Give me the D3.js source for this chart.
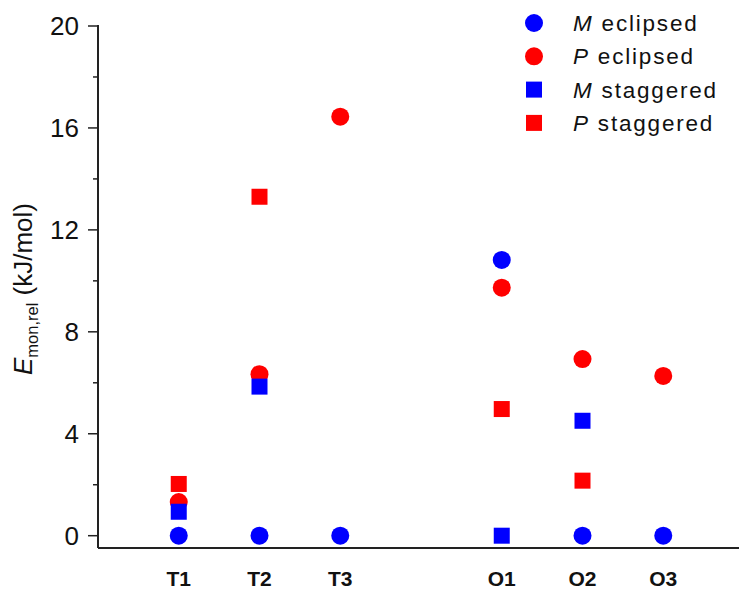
<!DOCTYPE html>
<html>
<head>
<meta charset="utf-8">
<script src="https://cdn.jsdelivr.net/npm/d3@7/dist/d3.min.js"></script>
<style>
  body { margin: 0; background: #fff; }
  svg { display: block; font-family: "Liberation Sans", Arial, sans-serif; }
</style>
</head>
<body>
<div id="chart"></div>
<script>
const categories = ["T1", "T2", "T3", "O1", "O2", "O3"];
const catPositions = [1, 2, 3, 5, 6, 7];

// values per category, null = no point
const mEclipsed = [0, 0, 0, 10.82, 0, 0];
const pEclipsed = [1.32, 6.34, 16.44, 9.73, 6.93, 6.27];
const mStaggered = [0.94, 5.85, null, 0, 4.51, null];
const pStaggered = [2.03, 13.3, null, 4.97, 2.16, null];

const yTicks = [0, 4, 8, 12, 16, 20];
const yMinorTicks = [2, 6, 10, 14, 18];

const series = [
  { name: "eclipsed", prefix: "M", values: mEclipsed, color: "#0000ff", shape: "circle" },
  { name: "eclipsed", prefix: "P", values: pEclipsed, color: "#ff0000", shape: "circle" },
  { name: "staggered", prefix: "M", values: mStaggered, color: "#0000ff", shape: "square" },
  { name: "staggered", prefix: "P", values: pStaggered, color: "#ff0000", shape: "square" }
];

const W = 739, H = 591;
const svg = d3.select("#chart").append("svg").attr("width", W).attr("height", H);

const x = d3.scaleLinear().domain([0, 8]).range([98, 744]);
const y = d3.scaleLinear().domain([0, 20]).range([535.7, 26]);
const yBottom = 548;

const axisColor = "#222";

// y axis
const yAxis = svg.append("g").attr("transform", "translate(98,0)");
yAxis.append("line")
  .attr("x1", 0).attr("x2", 0)
  .attr("y1", y(20) - 1).attr("y2", yBottom)
  .attr("stroke", axisColor).attr("stroke-width", 2);
yAxis.selectAll(".major").data(yTicks).enter().append("line")
  .attr("x1", -10).attr("x2", 0)
  .attr("y1", d => y(d)).attr("y2", d => y(d))
  .attr("stroke", axisColor).attr("stroke-width", 1.5);
yAxis.selectAll(".minor").data(yMinorTicks).enter().append("line")
  .attr("x1", -5).attr("x2", 0)
  .attr("y1", d => y(d)).attr("y2", d => y(d))
  .attr("stroke", axisColor).attr("stroke-width", 1.5);
yAxis.selectAll("text").data(yTicks).enter().append("text")
  .attr("x", -19).attr("y", d => y(d))
  .attr("dy", "0.36em")
  .attr("text-anchor", "end")
  .attr("font-size", 26)
  .attr("fill", "#111")
  .text(d => d);

// x axis
svg.append("line")
  .attr("x1", 98).attr("x2", W)
  .attr("y1", yBottom).attr("y2", yBottom)
  .attr("stroke", axisColor).attr("stroke-width", 2);
svg.selectAll(".xlab").data(categories).enter().append("text")
  .attr("x", (d, i) => x(catPositions[i]))
  .attr("y", 586)
  .attr("text-anchor", "middle")
  .attr("font-size", 21)
  .attr("font-weight", "bold")
  .attr("fill", "#111")
  .text(d => d);

// y label
const yl = svg.append("text")
  .attr("transform", "translate(32,289) rotate(-90)")
  .attr("text-anchor", "middle")
  .attr("font-size", 26)
  .attr("fill", "#111");
yl.append("tspan").attr("font-style", "italic").text("E");
yl.append("tspan").attr("font-size", 16.5).attr("dy", 6).text("mon,rel");
yl.append("tspan").attr("dy", -6).text(" (kJ/mol)");

// markers
function drawMarker(g, shape, color, cx, cy) {
  if (shape === "circle") {
    g.append("circle").attr("cx", cx).attr("cy", cy).attr("r", 9).attr("fill", color);
  } else {
    g.append("rect").attr("x", cx - 8).attr("y", cy - 8)
      .attr("width", 16).attr("height", 16).attr("fill", color);
  }
}

const marks = svg.append("g");
series.forEach(s => {
  s.values.forEach((v, i) => {
    if (v === null) return;
    drawMarker(marks, s.shape, s.color, x(catPositions[i]), y(v));
  });
});

// legend
const legend = svg.append("g");
series.forEach((s, i) => {
  const ly = 23 + i * 33.3;
  drawMarker(legend, s.shape, s.color, 534, ly);
  const t = legend.append("text")
    .attr("x", 573).attr("y", ly)
    .attr("dy", "0.36em")
    .attr("font-size", 22.5)
    .attr("letter-spacing", 1.8)
    .attr("fill", "#111");
  t.append("tspan").attr("font-style", "italic").text(s.prefix);
  t.append("tspan").text(" " + s.name);
});
</script>
</body>
</html>
